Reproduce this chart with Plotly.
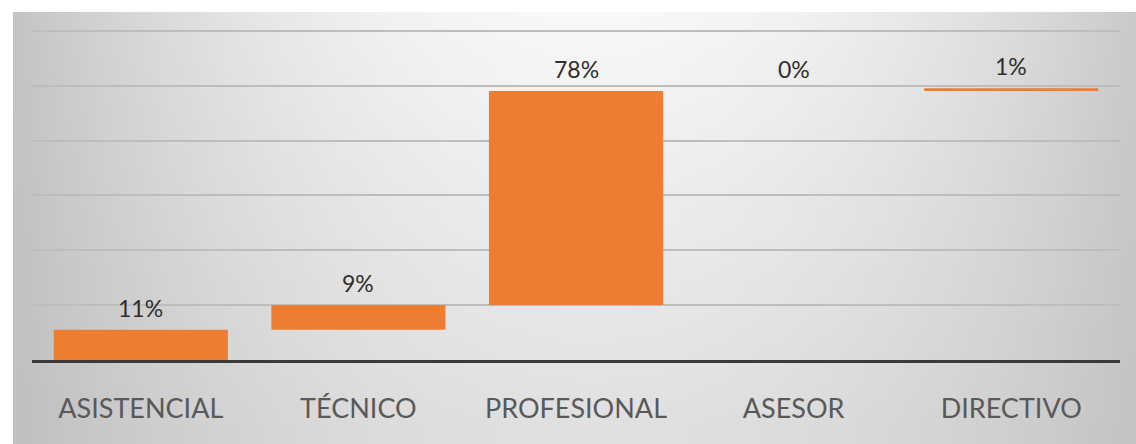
import base64
import struct
import zlib

import numpy as np
import plotly.graph_objects as go

# Distribution by job level (waterfall of shares)
categories = ["ASISTENCIAL", "TÉCNICO", "PROFESIONAL", "ASESOR", "DIRECTIVO"]
shares = [11, 9, 78, 0, 1]
labels = [f"{v}%" for v in shares]

ORANGE = "#ED7D31"
FONT = "Lato, Liberation Sans Narrow, sans-serif"
W, H = 1136, 444
ML, MR, MT, MB = 32, 16, 28, 84


def gradient_png(w=120, h=48):
    """Soft grey backdrop: lighter toward the top centre, darker at the sides."""
    xs = np.linspace(-1, 1, w)
    ys = np.linspace(0, 1, h)
    X, Y = np.meshgrid(xs, ys)
    centre = 248 - 24 * Y
    edge = 200 - 6 * Y
    val = edge + (centre - edge) * (1 - np.abs(X - 0.03) ** 2)
    img = np.clip(val, 0, 255).astype(np.uint8)
    raw = b"".join(b"\x00" + bytes(np.repeat(row, 3)) for row in img)

    def chunk(tag, data):
        c = struct.pack(">I", len(data)) + tag + data
        return c + struct.pack(">I", zlib.crc32(tag + data) & 0xFFFFFFFF)

    png = b"\x89PNG\r\n\x1a\n"
    png += chunk(b"IHDR", struct.pack(">IIBBBBB", w, h, 8, 2, 0, 0, 0))
    png += chunk(b"IDAT", zlib.compress(raw, 9))
    png += chunk(b"IEND", b"")
    return "data:image/png;base64," + base64.b64encode(png).decode()


fig = go.Figure(
    go.Waterfall(
        x=categories,
        y=shares,
        measure=["relative"] * len(shares),
        text=labels,
        textposition="none",
        increasing=dict(marker=dict(color=ORANGE)),
        decreasing=dict(marker=dict(color=ORANGE)),
        connector=dict(visible=False),
        hoverinfo="x+text",
    )
)

# value labels sit just above the running total of each step
tops = np.cumsum(shares)
for cat, top, lab in zip(categories, tops, labels):
    fig.add_annotation(
        x=cat, y=float(top), text=lab, showarrow=False,
        yanchor="middle", yshift=22,
        font=dict(family=FONT, size=23, color="#2e2e2e"),
    )

# backdrop panel (pixel box 13..1136 x 12..444 converted to paper units)
pw = W - ML - MR
ph = H - MT - MB
fig.add_layout_image(
    source=gradient_png(),
    xref="paper", yref="paper",
    x=(13 - ML) / pw, y=(H - MB - 12) / ph,
    sizex=(W - 13) / pw, sizey=(H - 12) / ph,
    xanchor="left", yanchor="top",
    sizing="stretch", layer="below",
)

fig.update_layout(
    width=W, height=H,
    margin=dict(l=ML, r=MR, t=MT, b=MB),
    paper_bgcolor="white",
    plot_bgcolor="rgba(0,0,0,0)",
    showlegend=False,
    bargap=0.21,
)
fig.update_xaxes(
    showgrid=False,
    showline=True, linecolor="#3a3a3a", linewidth=3,
    ticks="",
    tickfont=dict(family=FONT, size=27, color="#595959"),
    ticklabelstandoff=23,
)
fig.update_yaxes(
    range=[0, 121], tickvals=[20, 40, 60, 80, 100, 120],
    showgrid=True, gridcolor="#bdbdbd", gridwidth=2,
    zeroline=False, showticklabels=False, ticks="",
)

fig.write_html("out.html")
